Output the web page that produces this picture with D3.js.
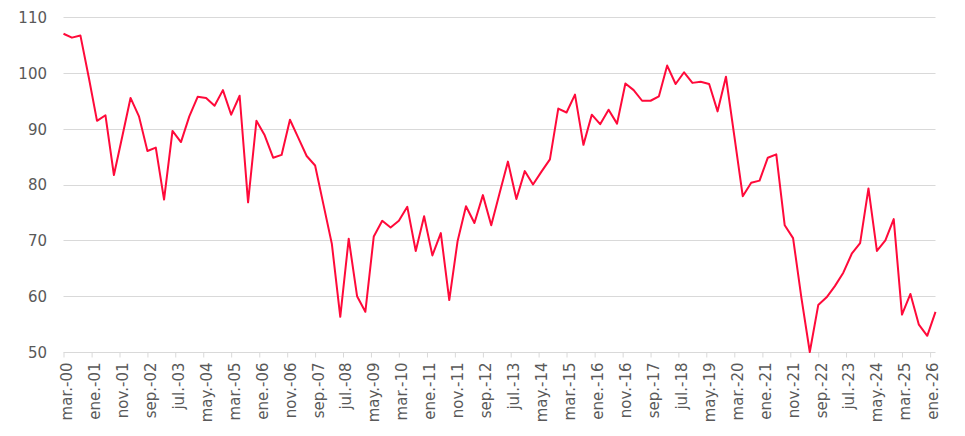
<!DOCTYPE html>
<html>
<head>
<meta charset="utf-8">
<script src="https://cdn.jsdelivr.net/npm/d3@7"></script>
<style>
  html, body { margin: 0; padding: 0; background: #fff; }
  svg { display: block; }
  text { font-family: "DejaVu Sans", Verdana, sans-serif; }
</style>
</head>
<body>
<svg id="chart" width="965" height="436"></svg>
<script>
// ---- Data (quarterly, mar-00 .. mar-26) ----
const startPeriod = "2000-03";
const values = [
  107.0, 106.3, 106.7, 99.2, 91.4, 92.4, 81.7, 88.6, 95.5, 92.2,
  86.0, 86.6, 77.3, 89.6, 87.6, 92.2, 95.7, 95.5, 94.1, 96.9,
  92.5, 95.9, 76.8, 91.4, 88.8, 84.8, 85.3, 91.6, 88.4, 85.1,
  83.4, 76.4, 69.4, 56.3, 70.3, 60.0, 57.2, 70.7, 73.5, 72.3,
  73.5, 76.0, 68.1, 74.3, 67.3, 71.3, 59.3, 69.9, 76.1, 73.1,
  78.1, 72.7, 78.4, 84.1, 77.4, 82.4, 80.0, 82.3, 84.5, 93.6,
  92.9, 96.1, 87.1, 92.5, 90.8, 93.4, 90.9, 98.1, 96.9, 95.0,
  95.0, 95.8, 101.3, 98.0, 100.1, 98.2, 98.4, 98.0, 93.1, 99.3,
  88.7, 77.9, 80.3, 80.7, 84.8, 85.4, 72.7, 70.4, 59.8, 50.0,
  58.4, 59.8, 61.8, 64.2, 67.6, 69.5, 79.3, 68.1, 70.0, 73.8,
  56.7, 60.4, 54.9, 52.9, 57.2
];
const tickLabels = [
  "mar.-00","ene.-01","nov.-01","sep.-02","jul.-03","may.-04","mar.-05","ene.-06",
  "nov.-06","sep.-07","jul.-08","may.-09","mar.-10","ene.-11","nov.-11","sep.-12",
  "jul.-13","may.-14","mar.-15","ene.-16","nov.-16","sep.-17","jul.-18","may.-19",
  "mar.-20","ene.-21","nov.-21","sep.-22","jul.-23","may.-24","mar.-25","ene.-26"
];
const yTicks = [50, 60, 70, 80, 90, 100, 110];
const monthAbbr = ["ene.","feb.","mar.","abr.","may.","jun.","jul.","ago.","sep.","oct.","nov.","dic."];

// ---- Derived ----
const start = d3.timeParse("%Y-%m")(startPeriod);
const data = values.map((v, i) => ({ date: d3.timeMonth.offset(start, 3 * i), value: v }));
function parseLabel(lbl) {
  const [m, yy] = lbl.split("-");
  return new Date(2000 + (+yy), monthAbbr.indexOf(m), 1);
}
const tickDates = tickLabels.map(parseLabel);

// ---- Layout ----
const svg = d3.select("#chart");
const mLeft = 63.5, mRight = 935.5, mTop = 17, mBottom = 352;

const x = d3.scaleTime()
  .domain([start, data[data.length - 1].date])
  .range([mLeft, mRight]);
const y = d3.scaleLinear().domain([50, 110]).range([mBottom, mTop]);

// gridlines
svg.append("g")
  .selectAll("line")
  .data(yTicks.filter(d => d !== 50))
  .join("line")
  .attr("x1", mLeft).attr("x2", mRight)
  .attr("y1", d => Math.round(y(d)) + 0.5).attr("y2", d => Math.round(y(d)) + 0.5)
  .attr("stroke", "#d9d9d9").attr("stroke-width", 1);

// y axis labels
const yAxis = d3.axisLeft(y).tickValues(yTicks).tickSize(0).tickPadding(0);
const gy = svg.append("g").attr("transform", `translate(${47},0)`).call(yAxis);
gy.select(".domain").remove();
gy.selectAll("text")
  .attr("fill", "#595959")
  .attr("font-size", "15px")
  .attr("dy", "0.36em");

// x axis
const xAxis = d3.axisBottom(x).tickValues(tickDates).tickSize(5)
  .tickFormat((d, i) => tickLabels[i]);
const gx = svg.append("g").attr("transform", `translate(0,${Math.round(mBottom) + 0.5})`).call(xAxis);
gx.select(".domain").attr("stroke", "#d9d9d9").attr("d", `M${mLeft},0H${mRight}`);
gx.selectAll(".tick line").attr("stroke", "#d9d9d9");
gx.selectAll(".tick text")
  .attr("fill", "#595959")
  .attr("font-size", "15px")
  .attr("text-anchor", "end")
  .attr("transform", "rotate(-90)")
  .attr("x", -10)
  .attr("y", 2.5)
  .attr("dy", "0.36em");

// line
const line = d3.line().x(d => x(d.date)).y(d => y(d.value));
svg.append("path")
  .datum(data)
  .attr("fill", "none")
  .attr("stroke", "#ff0a3a")
  .attr("stroke-width", 2)
  .attr("stroke-linejoin", "round")
  .attr("d", line);
</script>
</body>
</html>
